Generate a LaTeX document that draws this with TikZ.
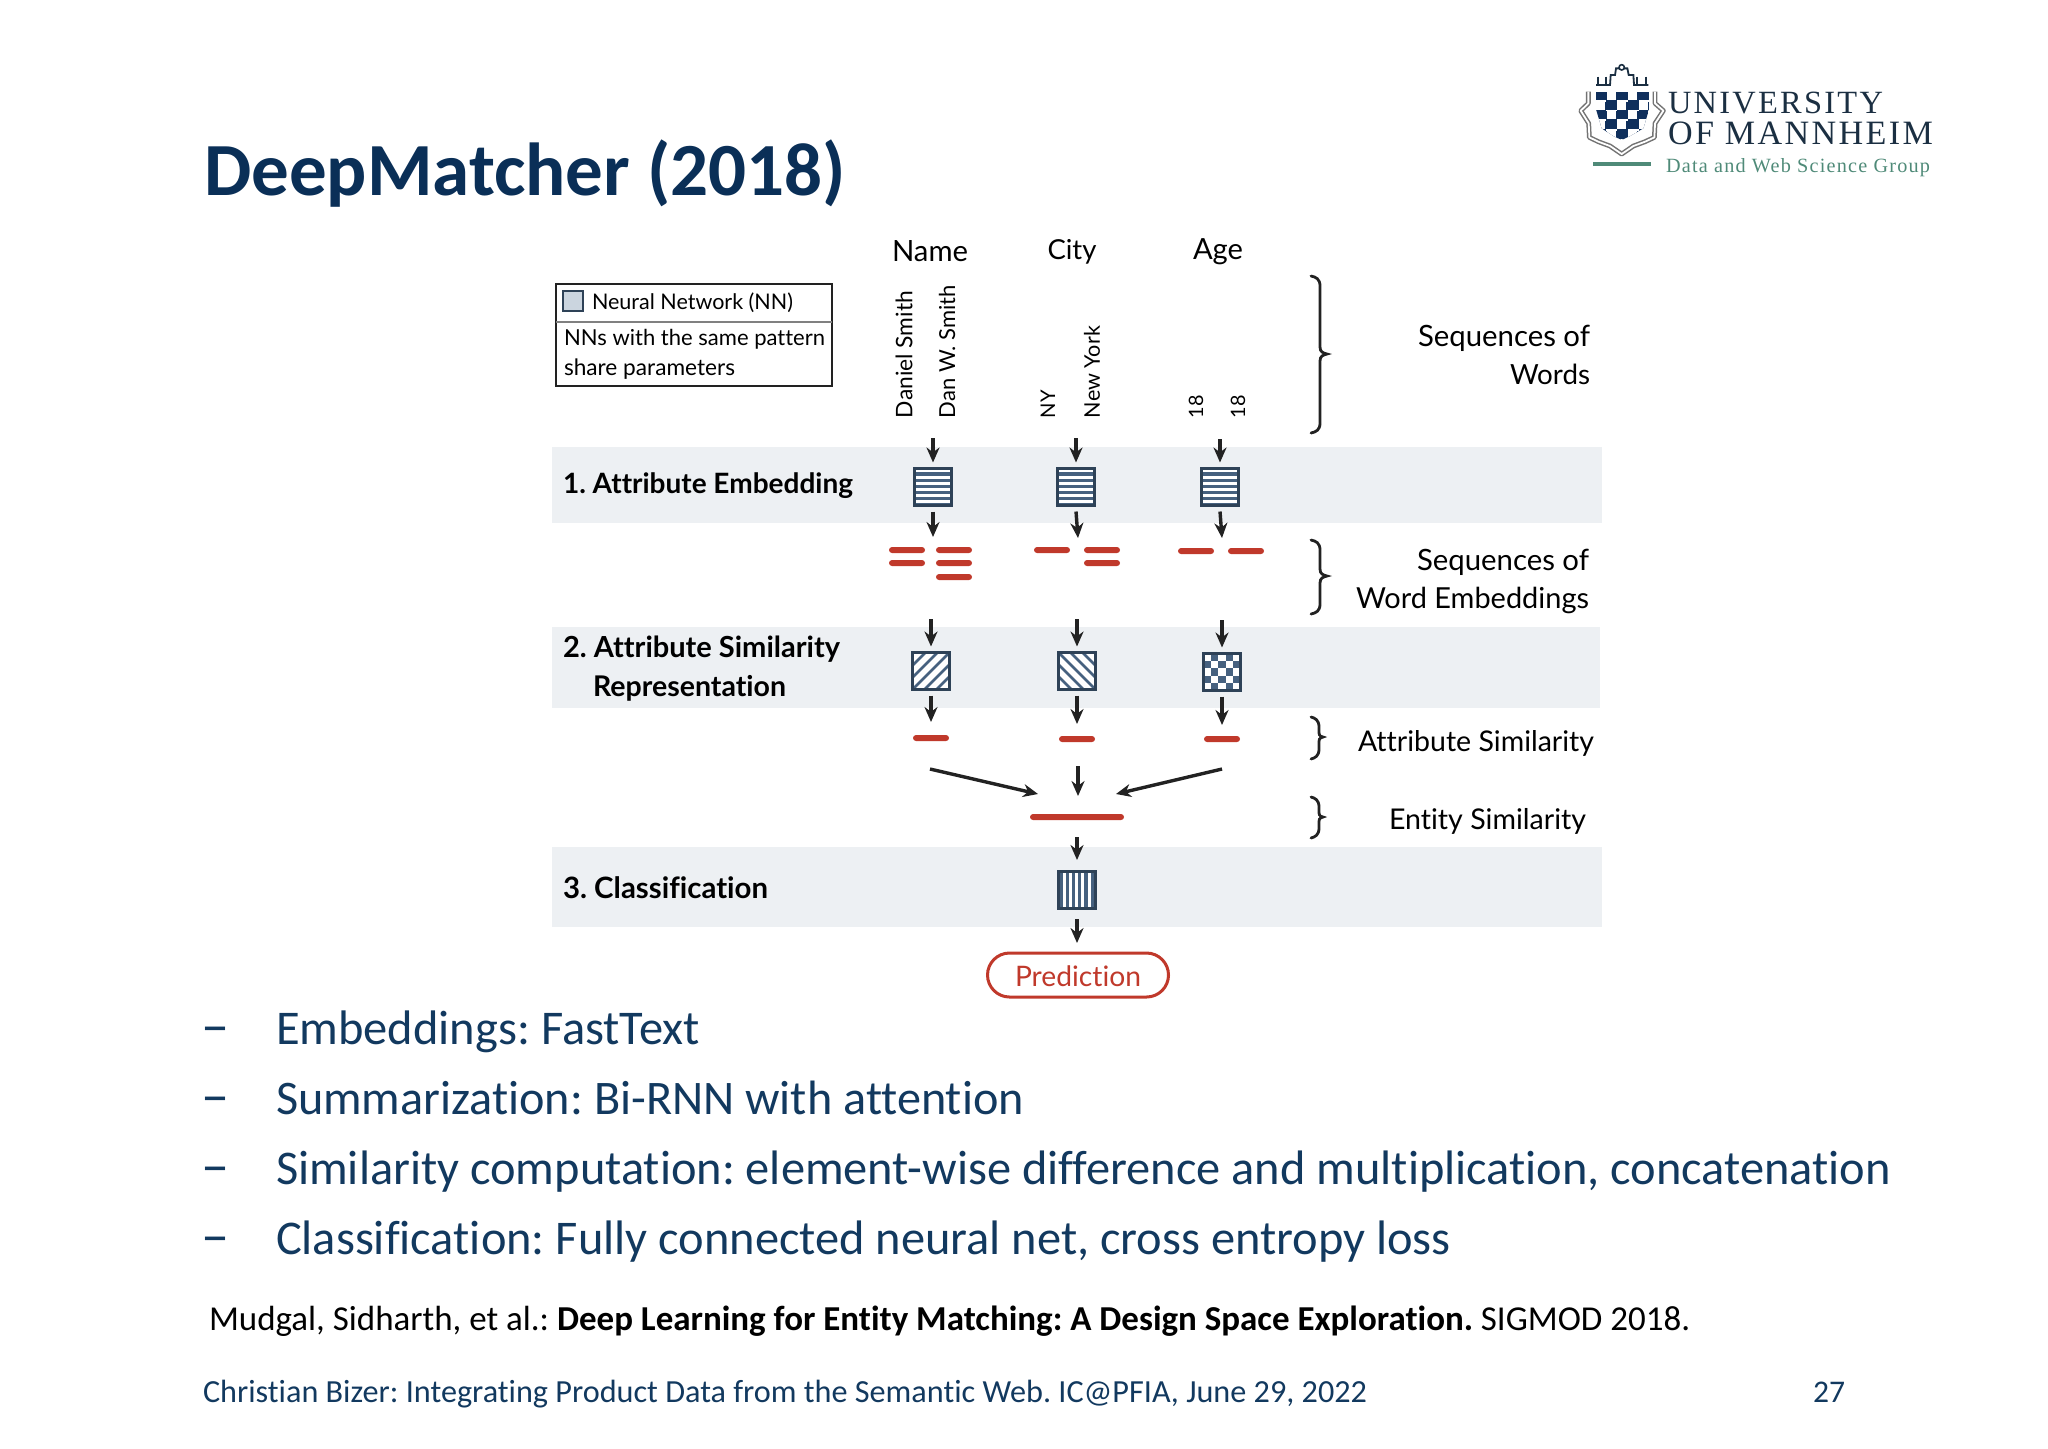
\documentclass[tikz,border=0pt]{standalone}
\usepackage{graphicx}
\usepackage{fontspec}
\usetikzlibrary{arrows.meta}
\setmainfont[Ligatures=NoCommon]{Carlito}
\newfontfamily\dfont[Ligatures=NoCommon]{Lato}
\newfontfamily\logoA[LetterSpace=7]{Liberation Serif}
\newfontfamily\logoB[LetterSpace=6]{Liberation Serif}
\frenchspacing
\newcommand\fw[2]{\resizebox{\dimexpr#1pt/2\relax}{!}{#2}}
\definecolor{slideblue}{HTML}{12395F}
\definecolor{titleblue}{HTML}{0A2F57}
\definecolor{bandc}{HTML}{EDF0F3}
\definecolor{redc}{HTML}{C0392B}
\definecolor{boxc}{HTML}{2E4257}
\definecolor{hatchc}{HTML}{46617F}
\definecolor{inkc}{HTML}{222222}
\definecolor{swatchc}{HTML}{CBD5DF}
\definecolor{navyc}{HTML}{0F2F5C}
\definecolor{logotext}{HTML}{1B2F42}
\definecolor{logogreen}{HTML}{4F8A78}
\tikzset{
  every node/.style={inner sep=0pt,outer sep=0pt},
  band/.style={fill=bandc,anchor=north west},
  lbl/.style={font=\dfont\fontsize{14}{14}\selectfont,text=black},
  lblb/.style={font=\dfont\bfseries\fontsize{14}{14}\selectfont,text=black},
  slide/.style={font=\fontsize{20}{20}\selectfont,text=slideblue,anchor=base west},
  nnbox/.style={draw=boxc,line width=1.25pt,minimum width=18.5pt,minimum height=18.5pt,fill=white},
  barnode/.style={fill=redc,rounded corners=1.5pt,minimum height=3pt,minimum width=#1*0.5pt},
  arr/.style={draw=inkc,line width=1.7pt,-{Stealth[length=7.5pt,width=6.5pt]}},
  brc/.style={draw=inkc,line width=1.4pt,line cap=round},
}
\newcommand\bracepx[6]{% x0 y0 ym y1 xm xt
  \draw[brc] (#1,#2) .. controls (#5-4,#2+1) and (#5,#2+3) .. (#5,#2+10)
    -- (#5,#3-7) .. controls (#5,#3-2) and (#6-4,#3-1) .. (#6,#3)
    .. controls (#6-4,#3+1) and (#5,#3+2) .. (#5,#3+7)
    -- (#5,#4-10) .. controls (#5,#4-3) and (#5-4,#4-1) .. (#1,#4);}
\newcommand\stripesH[1]{\begin{scope}\clip (#1.south west) rectangle (#1.north east);
  \foreach \d in {1,...,6}{\fill[hatchc] ([yshift=-\d*3.1pt+1.2pt]#1.north west) rectangle ([yshift=-\d*3.1pt-0.4pt]#1.north east);}\end{scope}
  \draw[boxc,line width=1.25pt] (#1.south west) rectangle (#1.north east);}
\newcommand\stripesV[1]{\begin{scope}\clip (#1.south west) rectangle (#1.north east);
  \foreach \d in {1,...,6}{\fill[hatchc] ([xshift=\d*3.1pt-2.6pt]#1.north west) rectangle ([xshift=\d*3.1pt-1.0pt]#1.south west);}\end{scope}
  \draw[boxc,line width=1.25pt] (#1.south west) rectangle (#1.north east);}
\newcommand\stripesD[2]{\begin{scope}\clip (#1.south west) rectangle (#1.north east);
  \foreach \d in {-4,...,4}{\draw[hatchc,line width=1.3pt] ([xshift=\d*6pt-14pt,yshift=#2*14pt]#1.center) -- ([xshift=\d*6pt+14pt,yshift=-#2*14pt]#1.center);}\end{scope}
  \draw[boxc,line width=1.25pt] (#1.south west) rectangle (#1.north east);}
\newcommand\checks[1]{\begin{scope}\clip (#1.south west) rectangle (#1.north east);
  \foreach \i in {0,...,4}{\foreach \j in {0,...,4}{
    \pgfmathtruncatemacro\parity{mod(\i+\j,2)}
    \ifnum\parity=1 \fill[hatchc] ([xshift=\i*3.7pt,yshift=-\j*3.7pt]#1.north west) rectangle ([xshift=\i*3.7pt+3.7pt,yshift=-\j*3.7pt-3.7pt]#1.north west);\fi}}\end{scope}
  \draw[boxc,line width=1.25pt] (#1.south west) rectangle (#1.north east);}
\begin{document}
\begin{tikzpicture}[x=0.5pt,y=-0.5pt]
\useasboundingbox (0,0) rectangle (2048,1448);
% title
\node[anchor=west,font=\bfseries\fontsize{30}{30}\selectfont,text=titleblue] (title) at (204,174) {\fw{642}{DeepMatcher (2018)}};
% bands
\node[band,minimum width=525pt,minimum height=38pt] (band1) at (552,447) {};
\node[band,minimum width=524pt,minimum height=40.5pt] (band2) at (552,627) {};
\node[band,minimum width=525pt,minimum height=40pt] (band3) at (552,847) {};
% legend
\node[draw=inkc,line width=0.8pt,fill=white,anchor=north west,minimum width=138pt,minimum height=51pt] (legend) at (556,284) {};
\coordinate (lgdiv) at (556,322);
\draw[draw=gray,line width=0.6pt] (legend.west |- lgdiv) -- (legend.east |- lgdiv);
\node[draw=boxc,line width=0.9pt,fill=swatchc,minimum width=10pt,minimum height=10pt] (swatch) at (573,301) {};
\node[lbl,anchor=west] (lg1) at (592,303) {\fw{201}{Neural Network (NN)}};
\node[lbl,anchor=west] (lg2) at (564,339) {\fw{261}{NNs with the same pattern}};
\node[lbl,anchor=west] (lg3) at (564,369) {\fw{171}{share parameters}};
% column heads
\node[lbl] (hname) at (930,251) {\fw{76}{Name}};
\node[lbl] (hcity) at (1072,252) {\fw{49}{City}};
\node[lbl] (hage) at (1218,252) {\fw{50}{Age}};
% rotated words
\node[lbl,rotate=90,anchor=west] (w1) at (904,418) {\fw{127}{Daniel Smith}};
\node[lbl,rotate=90,anchor=west] (w2) at (947,418) {\fw{133}{Dan W. Smith}};
\node[lbl,rotate=90,anchor=west] (w3) at (1048,418) {\fw{28}{NY}};
\node[lbl,rotate=90,anchor=west] (w4) at (1092,418) {\fw{92}{New York}};
\node[lbl,rotate=90,anchor=west] (w5) at (1196,418) {\fw{23}{18}};
\node[lbl,rotate=90,anchor=west] (w6) at (1238,418) {\fw{23}{18}};
% band labels
\node[lblb,anchor=west] (l1) at (563,486) {\fw{290}{1. Attribute Embedding}};
\node[lblb,anchor=west] (l2) at (563,649) {\fw{277}{2. Attribute Similarity}};
\node[lblb,anchor=west] (l2b) at (593,688) {\fw{193}{Representation}};
\node[lblb,anchor=west] (l3) at (563,888) {\fw{205}{3. Classification}};
% NN boxes
\node[nnbox] (nn1) at (933,487) {};
\node[nnbox] (nn2) at (1076,487) {};
\node[nnbox] (nn3) at (1220,487) {};
\node[nnbox] (sim1) at (931,671) {};
\node[nnbox] (sim2) at (1077,671) {};
\node[nnbox] (sim3) at (1222,672) {};
\node[nnbox] (cls) at (1077,890) {};
\stripesH{nn1}\stripesH{nn2}\stripesH{nn3}
\stripesD{sim1}{-1}\stripesD{sim2}{1}\checks{sim3}\stripesV{cls}
% embeddings
\node[barnode=36] (e11) at (907,550) {};
\node[barnode=36] (e12) at (907,563) {};
\node[barnode=36] (e21) at (954,550) {};
\node[barnode=36] (e22) at (954,563) {};
\node[barnode=36] (e23) at (954,577) {};
\node[barnode=36] (e31) at (1052,550) {};
\node[barnode=36] (e41) at (1102,550) {};
\node[barnode=36] (e42) at (1102,563) {};
\node[barnode=36] (e51) at (1196,551) {};
\node[barnode=36] (e61) at (1246,551) {};
% attribute and entity similarity bars
\node[barnode=36] (a1) at (931,738) {};
\node[barnode=36] (a2) at (1077,739) {};
\node[barnode=36] (a3) at (1222,739) {};
\node[barnode=94] (ent) at (1077,817) {};
% prediction
\node[draw=redc,line width=1.5pt,fill=white,rounded corners=11pt,minimum width=90.5pt,minimum height=22pt] (pred) at (1078,975) {};
\node[font=\dfont\fontsize{14}{14}\selectfont,text=redc] (predt) at (1078,976) {\fw{126}{Prediction}};
% free ends of connectors
\coordinate (t1) at (933,438); \coordinate (t2) at (1076,438); \coordinate (t3) at (1220,439);
\coordinate (b1) at (933,537); \coordinate (b2) at (1078,538); \coordinate (b3) at (1222,538);
\coordinate (s1) at (931,619); \coordinate (s2) at (1077,619); \coordinate (s3) at (1222,620);
\coordinate (q1) at (931,722); \coordinate (q2) at (1077,724); \coordinate (q3) at (1222,725);
\coordinate (d1s) at (930,769); \coordinate (d1e) at (1038,794);
\coordinate (d2s) at (1078,766); \coordinate (d2e) at (1078,796);
\coordinate (d3s) at (1222,769); \coordinate (d3e) at (1116,794);
\coordinate (c1) at (1077,837); \coordinate (c2) at (1077,860);
\coordinate (p1) at (1077,919); \coordinate (p2) at (1077,943);
% connectors
\draw[arr] (t1) -- ([yshift=3pt]nn1.north);
\draw[arr] (t2) -- ([yshift=3pt]nn2.north);
\draw[arr] (t3) -- ([yshift=3pt]nn3.north);
\draw[arr] ([yshift=-3pt]nn1.south) -- (b1);
\draw[arr] ([yshift=-3pt]nn2.south) -- (b2);
\draw[arr] ([yshift=-3pt]nn3.south) -- (b3);
\draw[arr] (s1) -- ([yshift=3pt]sim1.north);
\draw[arr] (s2) -- ([yshift=3pt]sim2.north);
\draw[arr] (s3) -- ([yshift=3pt]sim3.north);
\draw[arr] ([yshift=-3pt]sim1.south) -- (q1);
\draw[arr] ([yshift=-3pt]sim2.south) -- (q2);
\draw[arr] ([yshift=-3pt]sim3.south) -- (q3);
\draw[arr] (d1s) -- (d1e);
\draw[arr] (d2s) -- (d2e);
\draw[arr] (d3s) -- (d3e);
\draw[arr] (c1) -- (c2);
\draw[arr] (p1) -- (p2);
% braces
\bracepx{1311}{276}{354}{433}{1320}{1327}
\bracepx{1311}{540}{576}{614}{1320}{1327}
\bracepx{1311}{717}{737}{759}{1319}{1323}
\bracepx{1311}{797}{817}{838}{1319}{1323}
% right labels
\node[lbl,anchor=east] (r1) at (1590,338) {\fw{172}{Sequences of}};
\node[lbl,anchor=east] (r2) at (1590,374) {\fw{80}{Words}};
\node[lbl,anchor=east] (r3) at (1589,562) {\fw{172}{Sequences of}};
\node[lbl,anchor=east] (r4) at (1589,600) {\fw{233}{Word Embeddings}};
\node[lbl,anchor=east] (r5) at (1594,743) {\fw{236}{Attribute Similarity}};
\node[lbl,anchor=east] (r6) at (1586,821) {\fw{197}{Entity Similarity}};
% logo crest
\begin{scope}[shift={(1530,40)},x=0.1667pt,y=-0.1667pt]
  \draw[draw=gray!90!black,line width=2.4pt,line join=round] (175,155) -- (175,190) -- (152,212) -- (176,250) -- (178,292) -- (205,305) -- (240,318) -- (275,342) -- (310,318) -- (345,305) -- (373,292) -- (375,250) -- (400,212) -- (375,190) -- (375,155);
  \draw[draw=white,line width=0.9pt,line join=round] (175,155) -- (175,190) -- (152,212) -- (176,250) -- (178,292) -- (205,305) -- (240,318) -- (275,342) -- (310,318) -- (345,305) -- (373,292) -- (375,250) -- (400,212) -- (375,190) -- (375,155);
  \begin{scope}
    \clip (197,155) -- (358,155) -- (358,205) -- (340,265) -- (300,288) -- (275,300) -- (250,288) -- (215,265) -- (197,205) -- cycle;
    \fill[navyc] (197,155) rectangle (358,300);
    \foreach \i in {0,...,4}{\foreach \j in {0,...,4}{
      \pgfmathtruncatemacro\parity{mod(\i+\j,2)}
      \ifnum\parity=1 \fill[white] (197+\i*32.5,156+\j*29) rectangle (197+\i*32.5+27,156+\j*29+24);\fi
      \ifnum\parity=0 \fill[white] (197+\i*32.5-1,156+\j*29+24) rectangle (197+\i*32.5+32,156+\j*29+29);\fi}}
  \end{scope}
  \draw[draw=logotext,line width=0.9pt] (198,135) -- (240,135) -- (242,105) -- (255,105) -- (258,85) -- (292,85) -- (296,105) -- (310,105) -- (312,135) -- (355,135);
  \draw[draw=logotext,line width=0.9pt] (204,110) -- (204,135) (348,110) -- (348,135) (228,110) -- (228,135) (322,110) -- (322,135);
  \draw[draw=logotext,fill=white,line width=0.8pt] (275,82) circle (8);
\end{scope}
\node[font=\logoA\fontsize{17}{17}\selectfont,text=logotext,anchor=west] (logo1) at (1668,103) {\fw{215}{UNIVERSITY}};
\node[font=\logoA\fontsize{17}{17}\selectfont,text=logotext,anchor=west] (logo2) at (1668,133) {\fw{265}{OF MANNHEIM}};
\node[font=\logoB\fontsize{10}{10}\selectfont,text=logogreen,anchor=west] (logo3) at (1666,168) {\fw{264}{Data and Web Science Group}};
\fill[logogreen] (1593,162) rectangle (1651,166);
% bullets
\foreach \n/\y in {d1/1044,d2/1114,d3/1184,d4/1254}{\node[slide] (\n) at (201,\y) {\fw{28}{--}};}
\node[slide] (b1t) at (276,1044) {\fw{424}{Embeddings: FastText}};
\node[slide] (b2t) at (276,1114) {\fw{748}{Summarization: Bi-RNN with attention}};
\node[slide] (b3t) at (276,1184) {\fw{1615}{Similarity computation: element-wise difference and multiplication, concatenation}};
\node[slide] (b4t) at (276,1254) {\fw{1175}{Classification: Fully connected neural net, cross entropy loss}};
% citation and footer
\node[anchor=west,font=\fontsize{16}{16}\selectfont,text=black] (cite) at (209,1321) {\fw{1481}{Mudgal, Sidharth, et al.: \textbf{Deep Learning for Entity Matching: A Design Space Exploration.} SIGMOD 2018.}};
\node[anchor=west,font=\fontsize{15}{15}\selectfont,text=slideblue] (foot) at (203,1394) {\fw{1164}{Christian Bizer: Integrating Product Data from the Semantic Web. IC@PFIA, June 29, 2022}};
\node[anchor=west,font=\fontsize{15}{15}\selectfont,text=slideblue] (page) at (1813,1392) {\fw{32}{27}};
\end{tikzpicture}
\end{document}
